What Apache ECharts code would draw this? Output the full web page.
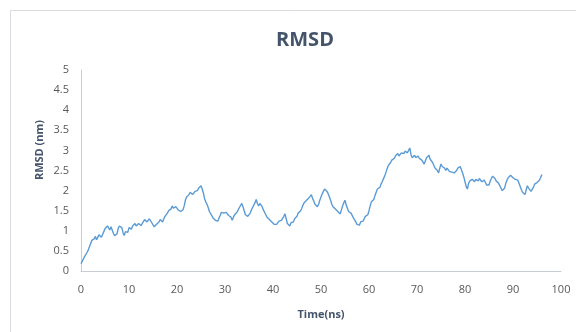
<!DOCTYPE html>
<html>
<head>
<meta charset="utf-8">
<script src="https://cdn.jsdelivr.net/npm/echarts@6/dist/echarts.min.js"></script>
<style>
  html, body { margin: 0; padding: 0; background: #ffffff; }
  #chart { width: 576px; height: 332px; }
</style>
</head>
<body>
<div id="chart"></div>
<script>
// Simulation time step (ns) and RMSD samples (nm), one every 0.25 ns from 0 to 96 ns
const timeStep = 0.25;
const rmsdValues = [
  0.18, 0.24, 0.28, 0.36, 0.35, 0.46, 0.52, 0.56, 0.68, 0.76, 0.74, 0.80, 0.86, 0.78, 0.82, 0.90, 0.92, 0.84, 0.88, 0.98,
  1.05, 1.02, 1.12, 1.10, 1.02, 1.10, 1.06, 0.94, 0.88, 0.86, 0.92, 1.06, 1.12, 1.14, 1.08, 0.96, 0.88, 0.98, 1.02, 0.96,
  1.08, 1.12, 1.04, 1.12, 1.16, 1.18, 1.12, 1.10, 1.18, 1.20, 1.13, 1.18, 1.22, 1.28, 1.30, 1.22, 1.24, 1.30, 1.26, 1.20,
  1.18, 1.10, 1.08, 1.16, 1.20, 1.22, 1.28, 1.30, 1.22, 1.30, 1.36, 1.38, 1.44, 1.50, 1.52, 1.54, 1.62, 1.56, 1.55, 1.60,
  1.58, 1.52, 1.50, 1.48, 1.44, 1.52, 1.62, 1.76, 1.84, 1.86, 1.90, 1.96, 1.96, 1.90, 1.92, 1.98, 2.02, 2.00, 2.06, 2.10,
  2.12, 2.04, 1.94, 1.80, 1.72, 1.66, 1.58, 1.48, 1.45, 1.38, 1.32, 1.30, 1.26, 1.22, 1.24, 1.32, 1.38, 1.46, 1.50, 1.44,
  1.44, 1.46, 1.42, 1.38, 1.38, 1.34, 1.26, 1.34, 1.40, 1.44, 1.46, 1.50, 1.58, 1.62, 1.68, 1.60, 1.50, 1.40, 1.36, 1.36,
  1.32, 1.44, 1.52, 1.58, 1.64, 1.70, 1.78, 1.68, 1.62, 1.68, 1.72, 1.60, 1.52, 1.46, 1.40, 1.34, 1.32, 1.28, 1.24, 1.22,
  1.18, 1.16, 1.12, 1.16, 1.18, 1.24, 1.22, 1.26, 1.30, 1.36, 1.42, 1.30, 1.18, 1.16, 1.12, 1.20, 1.24, 1.22, 1.30, 1.34,
  1.36, 1.44, 1.48, 1.50, 1.56, 1.64, 1.70, 1.72, 1.76, 1.80, 1.82, 1.86, 1.90, 1.80, 1.74, 1.66, 1.62, 1.60, 1.66, 1.76,
  1.84, 1.92, 1.98, 2.04, 2.08, 1.98, 1.92, 1.84, 1.76, 1.66, 1.60, 1.58, 1.54, 1.50, 1.48, 1.46, 1.42, 1.52, 1.62, 1.70,
  1.76, 1.64, 1.56, 1.48, 1.44, 1.44, 1.40, 1.32, 1.28, 1.22, 1.16, 1.12, 1.14, 1.22, 1.26, 1.24, 1.30, 1.36, 1.36, 1.40,
  1.50, 1.62, 1.72, 1.72, 1.78, 1.88, 1.96, 2.04, 2.06, 2.08, 2.16, 2.22, 2.26, 2.36, 2.44, 2.54, 2.62, 2.64, 2.70, 2.76,
  2.78, 2.80, 2.86, 2.90, 2.92, 2.86, 2.90, 2.94, 2.96, 2.92, 2.98, 3.00, 2.94, 3.00, 3.06, 2.90, 2.82, 2.86, 2.88, 2.82,
  2.84, 2.86, 2.80, 2.82, 2.76, 2.72, 2.66, 2.74, 2.82, 2.84, 2.88, 2.78, 2.74, 2.70, 2.66, 2.56, 2.52, 2.50, 2.44, 2.56,
  2.66, 2.60, 2.62, 2.56, 2.50, 2.56, 2.54, 2.48, 2.50, 2.46, 2.42, 2.44, 2.40, 2.50, 2.56, 2.54, 2.60, 2.52, 2.44, 2.34,
  2.22, 2.10, 2.04, 2.18, 2.24, 2.22, 2.28, 2.24, 2.22, 2.28, 2.26, 2.24, 2.30, 2.26, 2.22, 2.24, 2.26, 2.20, 2.14, 2.18,
  2.14, 2.24, 2.30, 2.36, 2.40, 2.30, 2.24, 2.20, 2.18, 2.12, 2.06, 2.00, 1.98, 2.06, 2.18, 2.26, 2.32, 2.36, 2.38, 2.34,
  2.32, 2.34, 2.28, 2.30, 2.26, 2.18, 2.10, 2.02, 1.96, 1.92, 1.90, 2.02, 2.12, 2.06, 2.04, 1.98, 1.94, 2.08, 2.16, 2.12,
  2.20, 2.24, 2.26, 2.32, 2.40
];

// Axis ranges and tick spacing
const xTicks = { min: 0, max: 100, interval: 10 };
const yTicks = { min: 0, max: 5, interval: 0.5 };

const chartTitle = 'RMSD';
const xAxisTitle = 'Time(ns)';
const yAxisTitle = 'RMSD (nm)';

const seriesData = rmsdValues.map((v, i) => [i * timeStep, v]);

const chart = echarts.init(document.getElementById('chart'), null, { renderer: 'canvas' });

const labelFont = 'Open Sans';
const axisLineColor = '#c8cdd3';

chart.setOption({
  backgroundColor: '#ffffff',
  animation: false,
  title: {
    text: chartTitle,
    left: 300,
    top: 25,
    textAlign: 'center',
    textStyle: { fontFamily: labelFont, fontSize: 20, fontWeight: 'bold', color: '#44546a' }
  },
  graphic: [
    {
      type: 'rect',
      shape: { x: 10.5, y: 10.5, width: 600, height: 400 },
      style: { fill: 'none', stroke: '#d9dde2', lineWidth: 1 },
      silent: true
    },
    {
      type: 'text',
      x: 40, y: 150,
      rotation: Math.PI / 2,
      style: {
        text: yAxisTitle,
        fontFamily: labelFont, fontSize: 11, fontWeight: 'bold', fill: '#44546a',
        align: 'center', verticalAlign: 'middle'
      }
    }
  ],
  grid: { left: 81, right: 15, top: 70, bottom: 61, containLabel: false },
  xAxis: {
    type: 'value',
    min: xTicks.min, max: xTicks.max, interval: xTicks.interval,
    name: xAxisTitle,
    nameLocation: 'middle',
    nameGap: 38,
    nameTextStyle: { fontFamily: labelFont, fontSize: 11, fontWeight: 'bold', color: '#44546a' },
    axisLine: { show: true, lineStyle: { color: axisLineColor, width: 1 } },
    axisTick: { show: false },
    splitLine: { show: false },
    axisLabel: { fontFamily: labelFont, fontSize: 11, color: '#595959', margin: 13 }
  },
  yAxis: {
    type: 'value',
    min: yTicks.min, max: yTicks.max, interval: yTicks.interval,
    axisLine: { show: true, lineStyle: { color: axisLineColor, width: 1 } },
    axisTick: { show: false },
    splitLine: { show: false },
    axisLabel: { fontFamily: labelFont, fontSize: 11, color: '#595959', margin: 12 }
  },
  series: [{
    type: 'line',
    data: seriesData,
    showSymbol: false,
    smooth: false,
    lineStyle: { color: '#5b9bd5', width: 1.4 },
    itemStyle: { color: '#5b9bd5' }
  }]
});
</script>
</body>
</html>
